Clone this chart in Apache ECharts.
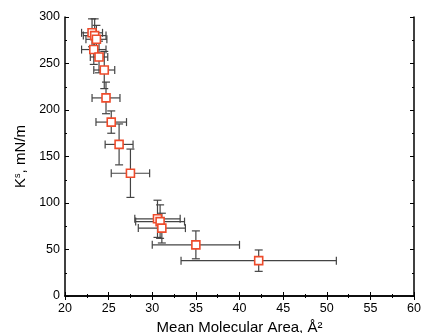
<!DOCTYPE html>
<html><head><meta charset="utf-8">
<script src="https://cdn.jsdelivr.net/npm/echarts@6/dist/echarts.min.js"></script>
<style>html,body{margin:0;padding:0;background:#fff}#c{width:424px;height:333px}</style>
</head><body><div id="c"></div>
<script>
var xVals = [23.1, 23.4, 23.6, 23.3, 23.9, 24.5, 24.7, 25.3, 26.2, 27.5, 30.6, 30.9, 31.1, 35.0, 42.2];
var yVals = [283, 280, 276, 265, 257, 243, 213, 187, 163, 132, 83, 80, 73, 55, 38];
var xErr  = [1.2, 1.3, 1.2, 1.4, 1.0, 1.2, 1.6, 1.75, 1.6, 2.2, 2.6, 2.8, 2.7, 5.0, 8.9];
var yErr  = [15, 18, 15, 16, 17, 20, 17, 12, 22, 26, 20, 18, 16, 15, 11.5];
var xTicks = [20, 25, 30, 35, 40, 45, 50, 55, 60];
var yTicks = [0, 50, 100, 150, 200, 250, 300];

var pts = xVals.map(function(x, i){ return [x, yVals[i], xErr[i], yErr[i]]; });
var chart = echarts.init(document.getElementById('c'));
var font = 'Liberation Sans';
function axisCommon(show){
  return {
    axisLine:{show:true, lineStyle:{color:'#000', width:1.5}},
    axisTick:{show:true, inside:true, length:4, lineStyle:{color:'#000'}},
    minorTick:{show:true, splitNumber:2, length:2, lineStyle:{color:'#000'}},
    splitLine:{show:false},
    axisLabel:{show:show, color:'#000', fontFamily:font, fontSize:12.5, margin:6}
  };
}
var xa = Object.assign(axisCommon(true), {type:'value', min:20, max:60, interval:5,
  name:'Mean Molecular Area, Å²', nameLocation:'middle', nameGap:22,
  nameTextStyle:{color:'#000', fontFamily:font, fontSize:15}});
xa.axisLabel.margin = 6;
var xt = Object.assign(axisCommon(false), {type:'value', min:20, max:60, interval:5, position:'top'});
var ya = Object.assign(axisCommon(true), {type:'value', min:0, max:300, interval:50,
  name:'K{s|s}, mN/m', nameLocation:'middle', nameGap:27, nameRotate:90,
  nameTextStyle:{color:'#000', fontFamily:font, fontSize:15,
    rich:{s:{fontSize:9, verticalAlign:'top', fontFamily:font, color:'#000', padding:[0,0,7,0]}}}});
ya.axisLabel.margin = 5;
var yr = Object.assign(axisCommon(false), {type:'value', min:0, max:300, interval:50, position:'right'});

chart.setOption({
  animation:false,
  grid:{left:65, right:10, top:17, bottom:37, containLabel:false, outerBoundsMode:'none'},
  xAxis:[xa, xt],
  yAxis:[ya, yr],
  series:[
    {type:'custom', xAxisIndex:0, yAxisIndex:0, data:pts, z:1,
     renderItem:function(params, api){
       var x = api.value(0), y = api.value(1), ex = api.value(2), ey = api.value(3);
       var l = api.coord([x-ex, y]), r = api.coord([x+ex, y]);
       var t = api.coord([x, y+ey]), b = api.coord([x, y-ey]);
       var c = 4, st = {stroke:'#444', lineWidth:1.2};
       return {type:'group', children:[
         {type:'line', shape:{x1:l[0],y1:l[1],x2:r[0],y2:r[1]}, style:st},
         {type:'line', shape:{x1:l[0],y1:l[1]-c,x2:l[0],y2:l[1]+c}, style:st},
         {type:'line', shape:{x1:r[0],y1:r[1]-c,x2:r[0],y2:r[1]+c}, style:st},
         {type:'line', shape:{x1:t[0],y1:t[1],x2:b[0],y2:b[1]}, style:st},
         {type:'line', shape:{x1:t[0]-c,y1:t[1],x2:t[0]+c,y2:t[1]}, style:st},
         {type:'line', shape:{x1:b[0]-c,y1:b[1],x2:b[0]+c,y2:b[1]}, style:st}
       ]};
     }},
    {type:'scatter', xAxisIndex:0, yAxisIndex:0, z:3,
     data:xVals.map(function(x,i){return [x, yVals[i]];}),
     symbol:'rect', symbolSize:8,
     itemStyle:{color:'#fff', borderColor:'#ee4b2b', borderWidth:1.6, opacity:1}}
  ]
});
</script></body></html>
